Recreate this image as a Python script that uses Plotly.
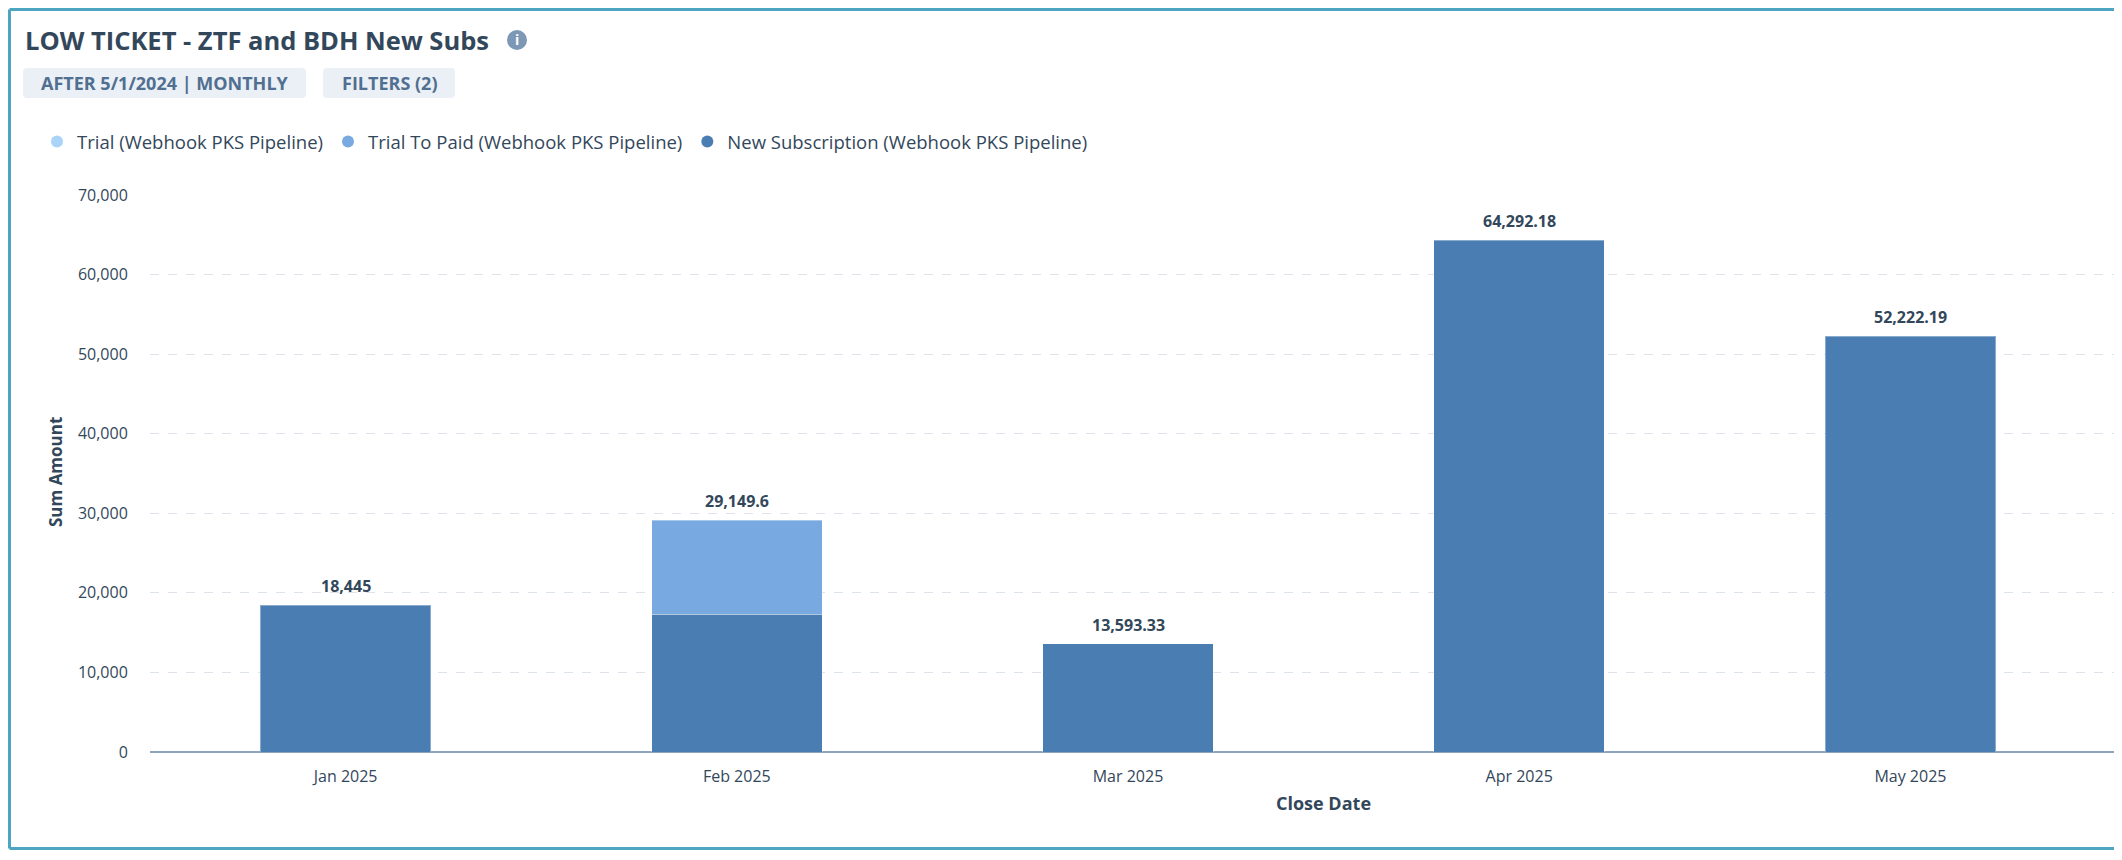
import plotly.graph_objects as go

# chart data
months = ["Jan 2025", "Feb 2025", "Mar 2025", "Apr 2025", "May 2025"]
trial = [None, None, None, None, None]
trial_to_paid = [None, 11849.6, None, None, None]
new_subscription = [18445, 17300, 13593.33, 64292.18, 52222.19]

series_names = [
    "Trial (Webhook PKS Pipeline)",
    "Trial To Paid (Webhook PKS Pipeline)",
    "New Subscription (Webhook PKS Pipeline)",
]
series_colors = ["#a9d3f7", "#78a9e0", "#4a7eb3"]

y_ticks = [0, 10000, 20000, 30000, 40000, 50000, 60000, 70000]

# the page body adds an 8px margin, keep the figure inside the window
OFF = 8
W, H = 2106, 842
ML, MR, MT, MB = 142, 0, 187, 98
PW, PH = W - ML - MR, H - MT - MB
BAND = 391.2
FONT = "'Open Sans', Lato, sans-serif"
TEXT = "#33475b"
FRAME = "#4ea5c2"


def px(x):
    # window pixel -> paper x
    return (x - OFF - ML) / PW


def py(y):
    # window pixel -> paper y
    return (H - MB - (y - OFF)) / PH


def fmt_total(v):
    s = f"{v:,.2f}"
    return s.rstrip("0").rstrip(".")


totals = [
    sum(v for v in (a, b, c) if v is not None)
    for a, b, c in zip(trial, trial_to_paid, new_subscription)
]

fig = go.Figure()

# stacked bars, bottom first
for name, vals, color in [
    (series_names[2], new_subscription, series_colors[2]),
    (series_names[1], trial_to_paid, series_colors[1]),
    (series_names[0], trial, series_colors[0]),
]:
    fig.add_trace(
        go.Bar(
            x=months,
            y=vals,
            name=name,
            legendgroup=name,
            showlegend=False,
            marker=dict(color=color, line=dict(color="rgba(255,255,255,0.35)", width=1)),
        )
    )

# legend entries with round markers
for name, color in zip(series_names, series_colors):
    fig.add_trace(
        go.Scatter(
            x=[None],
            y=[None],
            mode="markers",
            name=name,
            legendgroup=name,
            marker=dict(color=color, size=12, symbol="circle"),
        )
    )

annotations = []
for m, t in zip(months, totals):
    annotations.append(
        dict(
            x=m, y=t, xref="x", yref="y",
            text=f"<b>{fmt_total(t)}</b>",
            showarrow=False, yanchor="bottom", yshift=6,
            font=dict(family=FONT, size=16, color=TEXT),
        )
    )

annotations += [
    dict(
        x=px(23), y=py(40), xref="paper", yref="paper",
        text="<b>LOW TICKET - ZTF and BDH New Subs</b>",
        showarrow=False, xanchor="left", yanchor="middle",
        font=dict(family=FONT, size=25.5, color=TEXT),
    ),
    dict(
        x=px(517), y=py(40), xref="paper", yref="paper",
        text="<b>i</b>", showarrow=False, xanchor="center", yanchor="middle",
        font=dict(family=FONT, size=14, color="white"),
    ),
    dict(
        x=px(164.5), y=py(83), xref="paper", yref="paper",
        text="<b>AFTER 5/1/2024 | MONTHLY</b>", showarrow=False,
        xanchor="center", yanchor="middle",
        font=dict(family=FONT, size=18, color="#516f90"),
    ),
    dict(
        x=px(389), y=py(83), xref="paper", yref="paper",
        text="<b>FILTERS (2)</b>", showarrow=False,
        xanchor="center", yanchor="middle",
        font=dict(family=FONT, size=18, color="#516f90"),
    ),
    dict(
        x=px(1323), y=py(803), xref="paper", yref="paper",
        text="<b>Close Date</b>", showarrow=False,
        xanchor="center", yanchor="middle",
        font=dict(family=FONT, size=18, color=TEXT),
    ),
    dict(
        x=px(55), y=py(472), xref="paper", yref="paper",
        text="<b>Sum Amount</b>", showarrow=False, textangle=-90,
        xanchor="center", yanchor="middle",
        font=dict(family=FONT, size=17, color=TEXT),
    ),
]


def rounded_rect(x0, y0, x1, y1, r):
    # window pixel box -> paper path with rounded corners
    X0, X1 = px(x0), px(x1)
    Y0, Y1 = py(y1), py(y0)
    rx, ry = r / PW, r / PH
    return (
        f"M{X0 + rx},{Y0} L{X1 - rx},{Y0} Q{X1},{Y0} {X1},{Y0 + ry} "
        f"L{X1},{Y1 - ry} Q{X1},{Y1} {X1 - rx},{Y1} L{X0 + rx},{Y1} "
        f"Q{X0},{Y1} {X0},{Y1 - ry} L{X0},{Y0 + ry} Q{X0},{Y0} {X0 + rx},{Y0} Z"
    )


# frame: left, top and bottom edges only (right side is cut off in the source)
left, right = OFF + 1.5, OFF + W
top, bottom = OFF + 1.5, OFF + H - 1.5
frame_line = dict(color=FRAME, width=3)
shapes = [
    dict(type="line", xref="paper", yref="paper", x0=px(left), x1=px(right),
         y0=py(top), y1=py(top), line=frame_line),
    dict(type="line", xref="paper", yref="paper", x0=px(left), x1=px(right),
         y0=py(bottom), y1=py(bottom), line=frame_line),
    dict(type="line", xref="paper", yref="paper", x0=px(left), x1=px(left),
         y0=py(top), y1=py(bottom), line=frame_line),
    dict(
        type="path", xref="paper", yref="paper", layer="below",
        path=rounded_rect(23, 68, 306, 98, 4),
        fillcolor="#eaf0f6", line=dict(width=0),
    ),
    dict(
        type="path", xref="paper", yref="paper", layer="below",
        path=rounded_rect(323, 68, 455, 98, 4),
        fillcolor="#eaf0f6", line=dict(width=0),
    ),
    dict(
        type="circle", xref="paper", yref="paper",
        x0=px(507), x1=px(527), y0=py(50), y1=py(30),
        fillcolor="#7c98b6", line=dict(width=0),
    ),
]

fig.update_layout(
    width=W,
    height=H,
    margin=dict(l=ML, r=MR, t=MT, b=MB, autoexpand=False),
    barmode="stack",
    bargap=0.564,
    paper_bgcolor="white",
    plot_bgcolor="white",
    font=dict(family=FONT, size=16, color=TEXT),
    showlegend=True,
    legend=dict(
        orientation="h",
        x=px(37), y=py(142), xanchor="left", yanchor="middle",
        font=dict(family=FONT, size=18.5, color=TEXT),
        traceorder="normal",
        itemwidth=30,
        bgcolor="rgba(0,0,0,0)",
    ),
    annotations=annotations,
    shapes=shapes,
)

fig.update_xaxes(
    type="category",
    range=[-0.5, -0.5 + PW / BAND],
    showgrid=False,
    showline=False,
    ticks="outside", ticklen=10, tickcolor="rgba(0,0,0,0)",
    tickfont=dict(family=FONT, size=16, color=TEXT),
)

fig.update_yaxes(
    range=[0, 70000],
    tickvals=y_ticks,
    tickformat=",d",
    showgrid=True,
    gridcolor="#dde3ec",
    griddash="dash",
    gridwidth=1,
    zeroline=True,
    zerolinecolor="#8fa5be",
    zerolinewidth=2,
    showline=False,
    ticks="outside", ticklen=18, tickcolor="rgba(0,0,0,0)",
    tickfont=dict(family=FONT, size=16, color=TEXT),
)

fig.write_html("out.html")
